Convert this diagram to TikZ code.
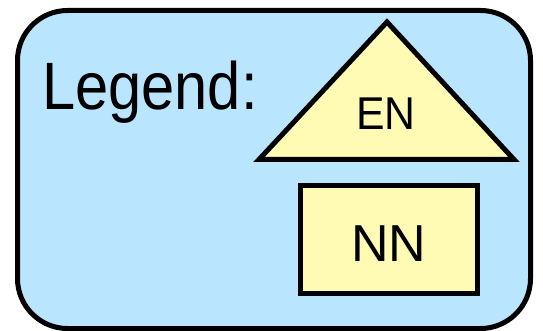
\documentclass[tikz,border=0pt]{standalone}
\usepackage{fontspec}
\setmainfont{Liberation Sans}
\definecolor{legblue}{RGB}{186,229,255}
\definecolor{legyellow}{RGB}{255,251,180}
\tikzset{
  frame/.style={draw=black, line width=5pt, fill=legblue, rounded corners=50pt},
  shapebox/.style={draw=black, line width=5pt, fill=legyellow, line join=miter},
  lbl/.style={inner sep=0pt, anchor=base, text=black}
}
\begin{document}
\begin{tikzpicture}[x=1pt,y=-1pt]
\useasboundingbox (0,0) rectangle (543,331);
\draw[frame] (17.5,10.5) rectangle (530.5,328.5);
\node[lbl, anchor=base west, font=\fontsize{67}{70}\selectfont] (legend) at (42,110) {\scalebox{0.89}[1]{Legend:}};
\coordinate (apex) at (387,22);
\coordinate (bl) at (259,159.5);
\coordinate (br) at (514,159.5);
\draw[shapebox] (apex) -- (bl) -- (br) -- cycle;
\node[lbl, font=\fontsize{46}{50}\selectfont] (en) at (386,130) {\scalebox{0.93}[1]{EN}};
\node[shapebox, minimum width=177pt, minimum height=107pt, inner sep=0pt] (nnbox) at (389,239.5) {};
\node[lbl, font=\fontsize{52}{56}\selectfont] (nn) at (389,261) {NN};
\end{tikzpicture}
\end{document}
